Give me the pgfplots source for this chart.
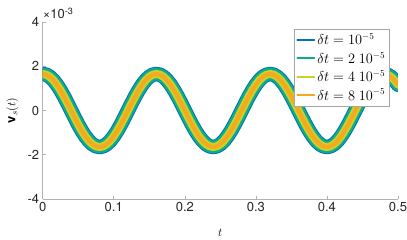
\documentclass[border=0pt]{standalone}
\usepackage{fontspec}
\setmainfont{TeX Gyre Heros}
\usepackage{graphicx}
\usepackage{pgfplots}
\usepackage{pgfplotstable}
\pgfplotsset{compat=1.18}
\usetikzlibrary{calc}
\definecolor{c1}{rgb}{0.0,0.447,0.741}
\definecolor{c2}{rgb}{0.05,0.68,0.55}
\definecolor{c3}{rgb}{0.80,0.82,0.15}
\definecolor{c4}{rgb}{0.96,0.66,0.13}
\definecolor{tk}{rgb}{0.15,0.15,0.15}
\pgfplotsset{ytick scale label code/.code={×10\textsuperscript{#1}}}
\pgfplotstableread{
t v
0.000 1.6500e-3
0.005 1.6183e-3
0.010 1.5244e-3
0.015 1.3719e-3
0.020 1.1667e-3
0.025 0.9167e-3
0.030 0.6314e-3
0.035 0.3219e-3
0.040 0
0.045 -0.3219e-3
0.050 -0.6314e-3
0.055 -0.9167e-3
0.060 -1.1667e-3
0.065 -1.3719e-3
0.070 -1.5244e-3
0.075 -1.6183e-3
0.080 -1.6500e-3
0.085 -1.6183e-3
0.090 -1.5244e-3
0.095 -1.3719e-3
0.100 -1.1667e-3
0.105 -0.9167e-3
0.110 -0.6314e-3
0.115 -0.3219e-3
0.120 0
0.125 0.3219e-3
0.130 0.6314e-3
0.135 0.9167e-3
0.140 1.1667e-3
0.145 1.3719e-3
0.150 1.5244e-3
0.155 1.6183e-3
0.160 1.6500e-3
0.165 1.6183e-3
0.170 1.5244e-3
0.175 1.3719e-3
0.180 1.1667e-3
0.185 0.9167e-3
0.190 0.6314e-3
0.195 0.3219e-3
0.200 0
0.205 -0.3219e-3
0.210 -0.6314e-3
0.215 -0.9167e-3
0.220 -1.1667e-3
0.225 -1.3719e-3
0.230 -1.5244e-3
0.235 -1.6183e-3
0.240 -1.6500e-3
0.245 -1.6183e-3
0.250 -1.5244e-3
0.255 -1.3719e-3
0.260 -1.1667e-3
0.265 -0.9167e-3
0.270 -0.6314e-3
0.275 -0.3219e-3
0.280 0
0.285 0.3219e-3
0.290 0.6314e-3
0.295 0.9167e-3
0.300 1.1667e-3
0.305 1.3719e-3
0.310 1.5244e-3
0.315 1.6183e-3
0.320 1.6500e-3
0.325 1.6183e-3
0.330 1.5244e-3
0.335 1.3719e-3
0.340 1.1667e-3
0.345 0.9167e-3
0.350 0.6314e-3
0.355 0.3219e-3
0.360 0
0.365 -0.3219e-3
0.370 -0.6314e-3
0.375 -0.9167e-3
0.380 -1.1667e-3
0.385 -1.3719e-3
0.390 -1.5244e-3
0.395 -1.6183e-3
0.400 -1.6500e-3
0.405 -1.6183e-3
0.410 -1.5244e-3
0.415 -1.3719e-3
0.420 -1.1667e-3
0.425 -0.9167e-3
0.430 -0.6314e-3
0.435 -0.3219e-3
0.440 0
0.445 0.3219e-3
0.450 0.6314e-3
0.455 0.9167e-3
0.460 1.1667e-3
0.465 1.3719e-3
0.470 1.5244e-3
0.475 1.6183e-3
0.480 1.6500e-3
0.485 1.6183e-3
0.490 1.5244e-3
0.495 1.3719e-3
0.500 1.1667e-3
}\datatable
\begin{document}
\begin{tikzpicture}
\begin{axis}[
  name=ax,
  scale only axis,
  width=355.3bp, height=177bp,
  xmin=0, xmax=0.5, ymin=-4e-3, ymax=4e-3,
  xtick={0,0.1,0.2,0.3,0.4,0.5},
  ytick={-4e-3,-2e-3,0,2e-3,4e-3},
  scaled x ticks=false,
  scaled y ticks=base 10:3,
  /pgf/number format/assume math mode=true,
  xticklabel style={/pgf/number format/fixed, /pgf/number format/precision=1},
  axis lines*=left,
  axis line style={draw=black!30, line width=0.8bp, -},
  tick style={draw=black!30, line width=0.6bp},
  major tick length=3.5bp,
  tick align=inside,
  ticklabel style={font=\fontsize{13bp}{15bp}\selectfont, text=tk},
  every y tick scale label/.style={at={(rel axis cs:0,1)}, anchor=south west, inner sep=0pt, yshift=3bp, font=\fontsize{13bp}{15bp}\selectfont, text=tk},
  xlabel={$t$},
  every axis x label/.style={at={(axis description cs:0.5,-0.19)}, anchor=center, font=\fontsize{13bp}{15bp}\selectfont},
  legend style={at={(0.977,0.96)}, anchor=north east, draw=black!35, fill=white,
    font=\fontsize{13.5bp}{15bp}\selectfont, row sep=2bp, inner sep=2.5bp},
  legend cell align=left,
  legend image post style={line width=2bp},
  every axis plot/.append style={line join=round, line cap=round},
  clip mode=individual,
]
\addplot[c1, line width=14.5bp] table[x=t,y=v] {\datatable};
\addplot[c2, line width=12.5bp] table[x=t,y=v] {\datatable};
\addplot[c3, line width=8bp] table[x=t,y=v] {\datatable};
\addplot[c4, line width=4bp] table[x=t,y=v] {\datatable};
\legend{$\delta t = 10^{-5}$, $\delta t = 2\ 10^{-5}$, $\delta t = 4\ 10^{-5}$, $\delta t = 8\ 10^{-5}$}
\node[anchor=center, inner sep=0pt, font=\fontsize{13bp}{15bp}\selectfont] at (axis description cs:-0.085,0.5) {\rotatebox{90}{$\mathbf{v}_s(t)$}};
\end{axis}
\pgfresetboundingbox
\path ($(ax.south west)+(-42.7bp,-41bp)$) rectangle ($(ax.south west)+(364.3bp,199bp)$);
\end{tikzpicture}
\end{document}
